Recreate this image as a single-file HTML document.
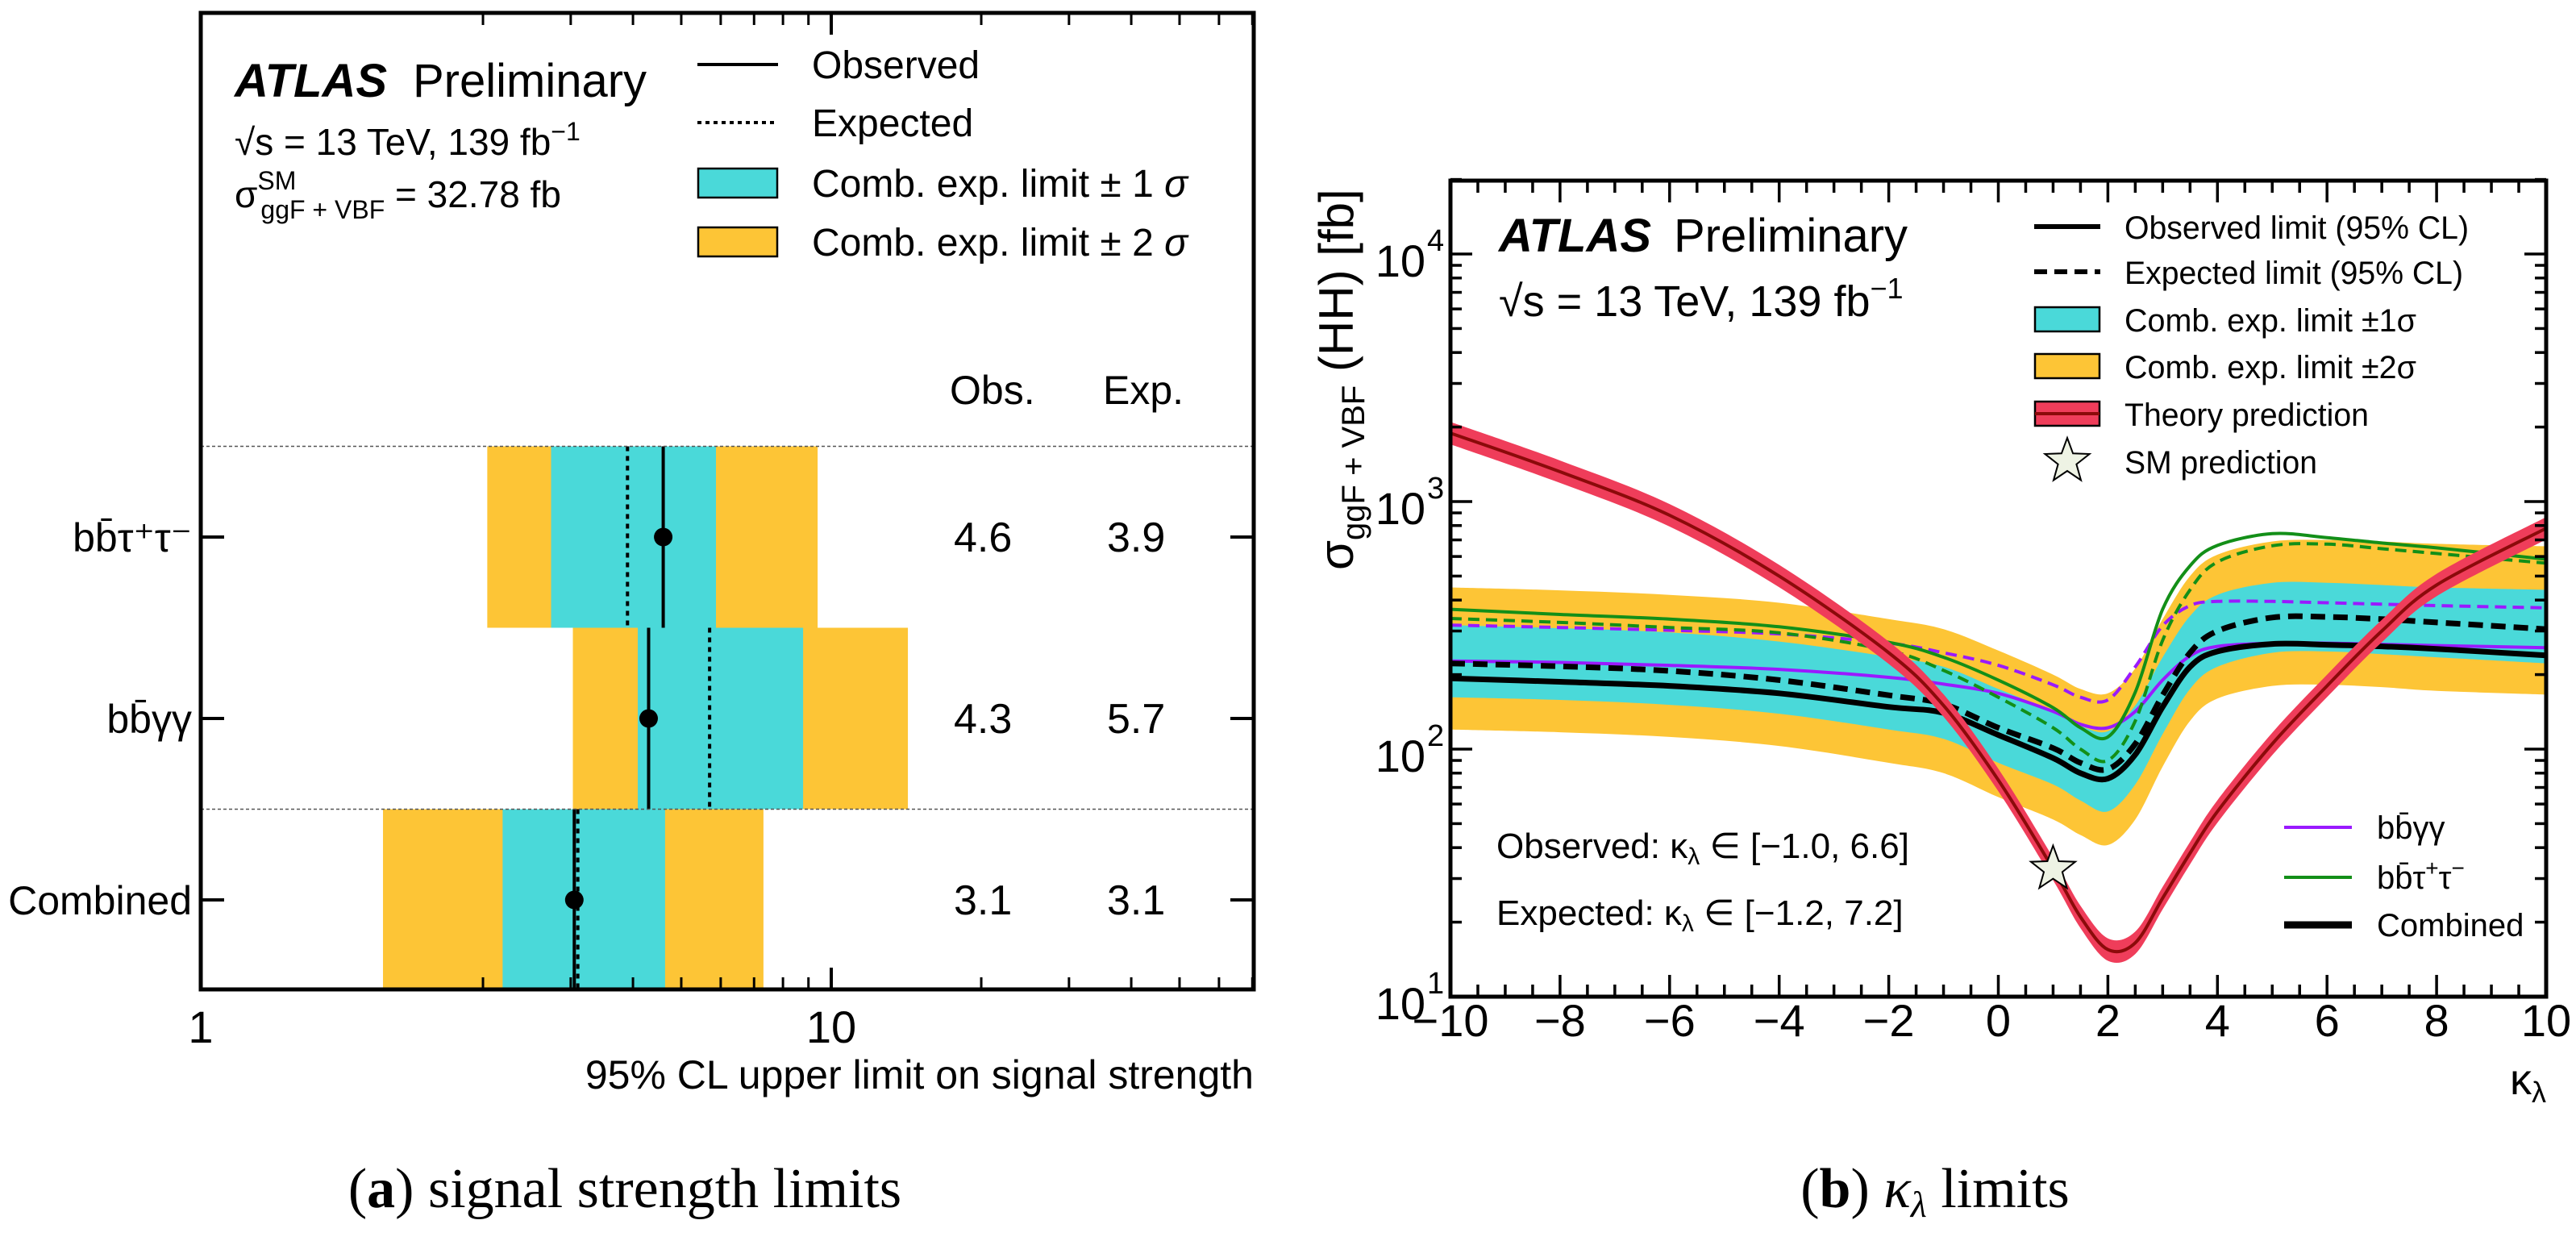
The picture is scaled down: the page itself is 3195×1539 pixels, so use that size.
<!DOCTYPE html>
<html><head><meta charset="utf-8"><title>HH limits</title>
<style>
html,body{margin:0;padding:0;background:#fff;}
svg{display:block;font-family:"Liberation Sans","DejaVu Sans",sans-serif;}
</style></head>
<body>
<svg id="fig" xmlns="http://www.w3.org/2000/svg" width="3195" height="1539" viewBox="0 0 3195 1539">
<rect x="0" y="0" width="3195" height="1539" fill="#fff"/>
<defs><clipPath id="clipR"><rect x="1799" y="224" width="1359" height="1012"/></clipPath></defs>

<g>
<text x="291" y="120" font-size="58" font-weight="bold" font-style="italic">ATLAS</text>
<text x="512" y="120" font-size="58">Preliminary</text>
<text x="291" y="192" font-size="46">√s = 13 TeV, 139 fb<tspan dy="-18" font-size="32">−1</tspan></text>
<text x="291" y="257" font-size="46">σ<tspan dy="-22" font-size="32">SM</tspan><tspan dx="-44" dy="36" font-size="32">ggF + VBF</tspan><tspan dy="-14"> = 32.78 fb</tspan></text>
<line x1="865" y1="80" x2="965" y2="80" stroke="#000" stroke-width="4"/>
<text x="1007" y="97" font-size="48">Observed</text>
<line x1="865" y1="152" x2="965" y2="152" stroke="#000" stroke-width="4" stroke-dasharray="5,5"/>
<text x="1007" y="169" font-size="48">Expected</text>
<rect x="866" y="209" width="98" height="36" fill="#4ad9d9" stroke="#000" stroke-width="2.5"/>
<text x="1007" y="244" font-size="48">Comb. exp. limit ± 1 <tspan font-style="italic">σ</tspan></text>
<rect x="866" y="282" width="98" height="36" fill="#fdc536" stroke="#000" stroke-width="2.5"/>
<text x="1007" y="317" font-size="48">Comb. exp. limit ± 2 <tspan font-style="italic">σ</tspan></text>
<text x="1178" y="501" font-size="50">Obs.</text>
<text x="1368" y="501" font-size="50">Exp.</text>
<text x="1555" y="1350" font-size="50" text-anchor="end">95% CL upper limit on signal strength</text>
<text x="775" y="1497" font-size="70" text-anchor="middle" font-family="Liberation Serif, serif">(<tspan font-weight="bold">a</tspan>)  signal strength limits</text>
</g>

<g>
<text x="1859" y="312" font-size="58" font-weight="bold" font-style="italic">ATLAS</text>
<text x="2076" y="312" font-size="58">Preliminary</text>
<text x="1859" y="392" font-size="54">√s =  13 TeV, 139 fb<tspan dy="-22" font-size="36">−1</tspan></text>
<text x="2635" y="296" font-size="40" textLength="427" lengthAdjust="spacingAndGlyphs">Observed limit (95% CL)</text>
<text x="2635" y="352" font-size="40" textLength="420" lengthAdjust="spacingAndGlyphs">Expected limit (95% CL)</text>
<text x="2635" y="411" font-size="40" textLength="362" lengthAdjust="spacingAndGlyphs">Comb. exp. limit ±1σ</text>
<text x="2635" y="469" font-size="40" textLength="362" lengthAdjust="spacingAndGlyphs">Comb. exp. limit ±2σ</text>
<text x="2635" y="528" font-size="40" textLength="303" lengthAdjust="spacingAndGlyphs">Theory prediction</text>
<text x="2635" y="587" font-size="40" textLength="239" lengthAdjust="spacingAndGlyphs">SM prediction</text>
<line x1="2523" y1="281" x2="2605" y2="281" stroke="#000" stroke-width="6"/>
<line x1="2523" y1="337" x2="2605" y2="337" stroke="#000" stroke-width="6" stroke-dasharray="16,9"/>
<rect x="2524" y="381" width="80" height="30" fill="#4ad9d9" stroke="#000" stroke-width="2.5"/>
<rect x="2524" y="439" width="80" height="30" fill="#fdc536" stroke="#000" stroke-width="2.5"/>
<rect x="2524" y="498" width="80" height="30" fill="#ef3d5a" stroke="#000" stroke-width="2.5"/>
<line x1="2524" y1="513" x2="2604" y2="513" stroke="#8b0a0a" stroke-width="4"/>
<polygon id="legendStar" fill="#eef3e4" stroke="#000" stroke-width="2"/>
<line x1="2833" y1="1026" x2="2917" y2="1026" stroke="#9a1aff" stroke-width="4"/>
<text x="2948" y="1040" font-size="40">bb̄γγ</text>
<line x1="2833" y1="1088" x2="2917" y2="1088" stroke="#138f18" stroke-width="4"/>
<text x="2948" y="1102" font-size="40">bb̄τ<tspan dy="-16" font-size="28">+</tspan><tspan dy="16">τ</tspan><tspan dy="-16" font-size="28">−</tspan></text>
<line x1="2833" y1="1147" x2="2917" y2="1147" stroke="#000" stroke-width="9"/>
<text x="2948" y="1161" font-size="40">Combined</text>
<text x="1856" y="1064" font-size="44">Observed: κ<tspan dy="8" font-size="30">λ</tspan><tspan dy="-8"> ∈ [−1.0, 6.6]</tspan></text>
<text x="1856" y="1147" font-size="44">Expected: κ<tspan dy="8" font-size="30">λ</tspan><tspan dy="-8"> ∈ [−1.2, 7.2]</tspan></text>
<text x="3158" y="1357" font-size="54" text-anchor="end">κ<tspan dy="10" font-size="36">λ</tspan></text>
<text transform="translate(1678,707) rotate(-90)" font-size="60">σ<tspan dy="14" font-size="40">ggF + VBF</tspan><tspan dy="-14"> (HH) [fb]</tspan></text>
<text x="2400" y="1497" font-size="70" text-anchor="middle" font-family="Liberation Serif, serif">(<tspan font-weight="bold">b</tspan>)  <tspan font-style="italic">κ</tspan><tspan font-style="italic" dy="12" font-size="46">λ</tspan><tspan dy="-12"> limits</tspan></text>
</g>
</svg>
<script>
// ---------- LEFT CHART DATA ----------
const channels = ['bb̄τ⁺τ⁻', 'bb̄γγ', 'Combined'];
const obsMu = [4.6, 4.3, 3.05];
const expMu = [3.9, 5.7, 3.1];
const minus2 = [2.04, 3.03, 1.26];
const minus1 = [2.74, 4.09, 2.19];
const plus1 = [5.87, 8.78, 4.64];
const plus2 = [9.39, 14.25, 7.31];
const obsText = ['4.6', '4.3', '3.1'];
const expText = ['3.9', '5.7', '3.1'];
const muMajorTicks = [1, 10];
const muMinorTicks = [2, 3, 4, 5, 6, 7, 8, 9, 20, 30, 40, 50, 60, 70];

// ---------- RIGHT CHART DATA ----------
const kl = [-10, -8, -6, -4, -2, -1, 0, 1, 1.5, 2, 2.5, 3, 3.5, 4, 5, 6, 7, 8, 10];
const theory = [1890, 1320, 880, 500, 245, 150, 75, 32.8, 21, 15.5, 16.5, 25, 38, 56, 105, 180, 300, 460, 780];
const expLim = [222, 216, 207, 190, 165, 152, 122, 101, 88, 83, 105, 165, 245, 300, 340, 342, 335, 325, 305];
const obsLim = [193, 187, 180, 168, 148, 140, 114, 92, 80, 76, 95, 148, 215, 248, 266, 264, 260, 254, 239];
const cyanHi = [317, 308, 296, 272, 236, 215, 175, 142, 124, 118, 150, 235, 345, 420, 470, 470, 460, 450, 440];
const cyanLo = [162, 158, 151, 139, 120, 110, 88, 72, 62, 56, 72, 115, 175, 215, 245, 248, 242, 235, 222];
const yellowHi = [450, 438, 420, 390, 335, 305, 250, 200, 175, 168, 212, 335, 500, 610, 690, 700, 690, 675, 660];
const yellowLo = [120, 117, 112, 103, 88, 80, 64, 52, 45, 41, 52, 85, 130, 160, 180, 182, 178, 172, 166];
const bbyyObs = [227, 224, 218, 210, 195, 183, 168, 142, 126, 122, 142, 190, 238, 260, 268, 268, 265, 262, 257];
const bbyyExp = [317, 310, 302, 292, 268, 245, 218, 182, 162, 158, 215, 315, 380, 395, 395, 390, 385, 380, 372];
const bbttObs = [367, 350, 335, 312, 270, 235, 190, 147, 122, 112, 170, 367, 550, 665, 742, 715, 680, 650, 585];
const bbttExp = [337, 325, 310, 295, 250, 208, 162, 122, 100, 90, 130, 275, 440, 570, 663, 673, 645, 617, 564];
const smPoint = [1, 32.78];
const klTickLabels = ['−10', '−8', '−6', '−4', '−2', '0', '2', '4', '6', '8', '10'];
const klTickValues = [-10, -8, -6, -4, -2, 0, 2, 4, 6, 8, 10];
const yDecades = [1, 2, 3, 4];

const NS = 'http://www.w3.org/2000/svg';
const svg = document.getElementById('fig');
function mk(tag, attrs, parent) {
  const e = document.createElementNS(NS, tag);
  for (const k in attrs) e.setAttribute(k, attrs[k]);
  (parent || svg).appendChild(e);
  return e;
}

const L = {x0: 249, x1: 1555, y0: 16, y1: 1227};
function xL(v) { return 1031 + 618 * Math.log10(v / 10); }
function rowY(i) { return 666 + i * 225; }
const rowHalf = 112.5;

const gL = mk('g', {});



for (let i = 0; i < channels.length; i++) {
  const yt = rowY(i) - rowHalf, h = 2 * rowHalf;
  let r = mk('rect', {x: xL(minus2[i]), y: yt, width: xL(plus2[i]) - xL(minus2[i]), height: h, fill: '#fdc536'}, gL);
  
  
  r = mk('rect', {x: xL(minus1[i]), y: yt, width: xL(plus1[i]) - xL(minus1[i]), height: h, fill: '#4ad9d9'}, gL);
  
  
  let ln = mk('line', {x1: xL(expMu[i]), x2: xL(expMu[i]), y1: yt, y2: yt + h, stroke: '#000', 'stroke-width': 4, 'stroke-dasharray': '6,6'}, gL);
  
  
  ln = mk('line', {x1: xL(obsMu[i]), x2: xL(obsMu[i]), y1: yt, y2: yt + h, stroke: '#000', 'stroke-width': 4}, gL);
  
  
  const c = mk('circle', {cx: xL(obsMu[i]), cy: rowY(i), r: 11.5, fill: '#000'}, gL);
  
  
  let t = mk('text', {x: 1183, y: rowY(i) + 18, 'font-size': 52}, gL);
  t.textContent = obsText[i];
  
  
  t = mk('text', {x: 1373, y: rowY(i) + 18, 'font-size': 52}, gL);
  t.textContent = expText[i];
  
  
  t = mk('text', {x: 238, y: rowY(i) + 18, 'font-size': 50, 'text-anchor': 'end'}, gL);
  t.textContent = channels[i];
  
  
  let tk = mk('line', {x1: L.x0, x2: L.x0 + 29, y1: rowY(i), y2: rowY(i), stroke: '#000', 'stroke-width': 4}, gL);
  
  
  tk = mk('line', {x1: L.x1, x2: L.x1 - 29, y1: rowY(i), y2: rowY(i), stroke: '#000', 'stroke-width': 4}, gL);
  
  
}
for (let i = 0; i < channels.length - 1; i++) {
  const sep = mk('line', {x1: L.x0, x2: L.x1, y1: rowY(i * 2) - rowHalf, y2: rowY(i * 2) - rowHalf, stroke: '#555', 'stroke-width': 1.5, 'stroke-dasharray': '4,3'}, gL);
  
  
}
for (const v of muMinorTicks) {
  const x = xL(v);
  let tk = mk('line', {x1: x, x2: x, y1: L.y1, y2: L.y1 - 15, stroke: '#000', 'stroke-width': 3}, gL);
  
  
  tk = mk('line', {x1: x, x2: x, y1: L.y0, y2: L.y0 + 15, stroke: '#000', 'stroke-width': 3}, gL);
  
  
}
{
  const x = xL(10);
  let tk = mk('line', {x1: x, x2: x, y1: L.y1, y2: L.y1 - 27, stroke: '#000', 'stroke-width': 4}, gL);
  
  
  tk = mk('line', {x1: x, x2: x, y1: L.y0, y2: L.y0 + 27, stroke: '#000', 'stroke-width': 4}, gL);
  
  
}
let lab = mk('text', {x: L.x0, y: 1293, 'font-size': 56, 'text-anchor': 'middle'}, gL);
lab.textContent = String(muMajorTicks[0]);


lab = mk('text', {x: xL(muMajorTicks[1]), y: 1293, 'font-size': 56, 'text-anchor': 'middle'}, gL);
lab.textContent = String(muMajorTicks[1]);


const frameL = mk('rect', {x: L.x0, y: L.y0, width: L.x1 - L.x0, height: L.y1 - L.y0, fill: 'none', stroke: '#000', 'stroke-width': 5}, gL);



const R = {x0: 1799, x1: 3158, y0: 224, y1: 1236};
function xR(k) { return R.x0 + (k + 10) * (R.x1 - R.x0) / 20; }
function yR(v) { return R.y1 - (Math.log10(v) - 1) * 307; }

function pts(arr) { return kl.map((k, i) => [xR(k), yR(arr[i])]); }
function smooth(p, move) {
  let d = (move ? 'M' : 'L') + p[0][0].toFixed(1) + ',' + p[0][1].toFixed(1);
  for (let i = 0; i < p.length - 1; i++) {
    const p0 = p[Math.max(0, i - 1)], p1 = p[i], p2 = p[i + 1], p3 = p[Math.min(p.length - 1, i + 2)];
    const c1 = [p1[0] + (p2[0] - p0[0]) / 6, p1[1] + (p2[1] - p0[1]) / 6];
    const c2 = [p2[0] - (p3[0] - p1[0]) / 6, p2[1] - (p3[1] - p1[1]) / 6];
    d += 'C' + c1[0].toFixed(1) + ',' + c1[1].toFixed(1) + ' ' + c2[0].toFixed(1) + ',' + c2[1].toFixed(1) + ' ' + p2[0].toFixed(1) + ',' + p2[1].toFixed(1);
  }
  return d;
}
function bandPath(hi, lo) {
  return smooth(pts(hi), true) + smooth(pts(lo).reverse(), false) + 'Z';
}
const gR = mk('g', {'clip-path': 'url(#clipR)'});



let p = mk('path', {d: bandPath(yellowHi, yellowLo), fill: '#fdc536'}, gR);


p = mk('path', {d: bandPath(cyanHi, cyanLo), fill: '#4ad9d9'}, gR);


p = mk('path', {d: smooth(pts(bbyyObs), true), fill: 'none', stroke: '#9a1aff', 'stroke-width': 4}, gR);


p = mk('path', {d: smooth(pts(bbyyExp), true), fill: 'none', stroke: '#9a1aff', 'stroke-width': 4, 'stroke-dasharray': '14,8'}, gR);


p = mk('path', {d: smooth(pts(bbttObs), true), fill: 'none', stroke: '#138f18', 'stroke-width': 4}, gR);


p = mk('path', {d: smooth(pts(bbttExp), true), fill: 'none', stroke: '#138f18', 'stroke-width': 4, 'stroke-dasharray': '14,8'}, gR);


p = mk('path', {d: smooth(pts(expLim), true), fill: 'none', stroke: '#000', 'stroke-width': 7, 'stroke-dasharray': '18,10'}, gR);


p = mk('path', {d: smooth(pts(obsLim), true), fill: 'none', stroke: '#000', 'stroke-width': 7}, gR);


const thUp = theory.map(v => v * 1.11);
const thDn = theory.map(v => v / 1.11);
p = mk('path', {d: bandPath(thUp, thDn), fill: '#ef3d5a'}, gR);


p = mk('path', {d: smooth(pts(theory), true), fill: 'none', stroke: '#8b0a0a', 'stroke-width': 4}, gR);



function starPts(cx, cy, ro, ri) {
  const a = [];
  for (let i = 0; i < 10; i++) {
    const r = i % 2 ? ri : ro, ang = -Math.PI / 2 + i * Math.PI / 5;
    a.push((cx + r * Math.cos(ang)).toFixed(1) + ',' + (cy + r * Math.sin(ang)).toFixed(1));
  }
  return a.join(' ');
}
const star = mk('polygon', {points: starPts(xR(smPoint[0]), yR(smPoint[1]), 29, 12), fill: '#eef3e4', stroke: '#000', 'stroke-width': 2});


document.getElementById('legendStar').setAttribute('points', starPts(2564, 572, 29, 12));

for (let k = -10; k <= 10.001; k += 0.5) {
  const major = Math.abs(k % 2) < 1e-6;
  const len = major ? 27 : 15, x = xR(k);
  let tk = mk('line', {x1: x, x2: x, y1: R.y1, y2: R.y1 - len, stroke: '#000', 'stroke-width': 3.5});
  
  
  tk = mk('line', {x1: x, x2: x, y1: R.y0, y2: R.y0 + len, stroke: '#000', 'stroke-width': 3.5});
  
  
}
for (let i = 0; i < klTickValues.length; i++) {
  const t = mk('text', {x: xR(klTickValues[i]), y: 1285, 'font-size': 56, 'text-anchor': 'middle'});
  t.textContent = klTickLabels[i];
  
  
}
for (const d of yDecades) {
  for (let m = 1; m <= 9; m++) {
    const v = m * Math.pow(10, d);
    if (v > 20000) continue;
    const y = yR(v), len = m === 1 ? 27 : 14;
    let tk = mk('line', {x1: R.x0, x2: R.x0 + len, y1: y, y2: y, stroke: '#000', 'stroke-width': 3.5});
    
    
    tk = mk('line', {x1: R.x1, x2: R.x1 - len, y1: y, y2: y, stroke: '#000', 'stroke-width': 3.5});
    
    
  }
  const t = mk('text', {x: 1768, y: yR(Math.pow(10, d)) + 28, 'font-size': 56, 'text-anchor': 'end'});
  t.textContent = '10';
  
  
  const s = mk('text', {x: 1770, y: yR(Math.pow(10, d)) - 4, 'font-size': 38});
  s.textContent = String(d);
  
  
}
const frameR = mk('rect', {x: R.x0, y: R.y0, width: R.x1 - R.x0, height: R.y1 - R.y0, fill: 'none', stroke: '#000', 'stroke-width': 5});


</script>
</body></html>
